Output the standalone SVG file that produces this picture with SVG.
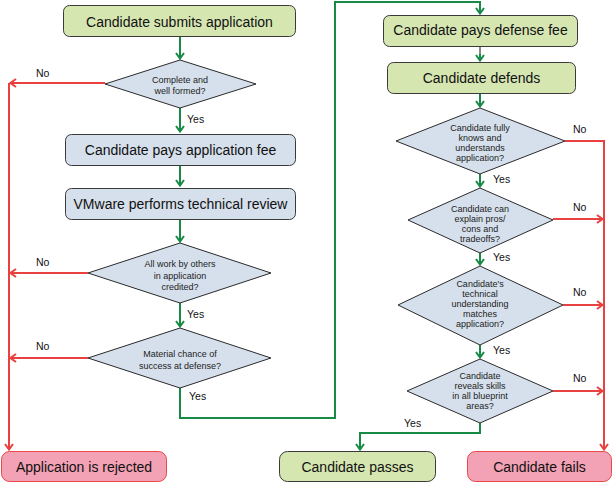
<svg xmlns="http://www.w3.org/2000/svg" width="613" height="483" viewBox="0 0 613 483">
<defs>
<style>
.box{stroke:#3a3a3a;stroke-width:1}
.g{fill:#d6e6b1}
.b{fill:#d6e0ec}
.p{fill:#f3a1b5;stroke:#e84848;stroke-width:1}
.dia{fill:#d6e0ec;stroke:#2a2a2a;stroke-width:1}
.bt{font-family:"Liberation Sans",Arial,sans-serif;font-size:14px;fill:#111;text-anchor:middle}
.dt{font-family:"Liberation Sans",Arial,sans-serif;font-size:9px;fill:#222;text-anchor:middle}
.lb{font-family:"Liberation Sans",Arial,sans-serif;font-size:10.5px;fill:#111}
.gl{fill:none;stroke:#178a45;stroke-width:2}
.rl{fill:none;stroke:#e8413f;stroke-width:2}
</style>
<marker id="ag" viewBox="0 0 10 10" refX="8.5" refY="5" markerWidth="10" markerHeight="10" markerUnits="userSpaceOnUse" orient="auto">
<path d="M2.5,1 L8,5 L2.5,9" fill="none" stroke="#178a45" stroke-width="2"/>
</marker>
<marker id="ar" viewBox="0 0 10 10" refX="8.5" refY="5" markerWidth="10" markerHeight="10" markerUnits="userSpaceOnUse" orient="auto">
<path d="M2.5,1 L8,5 L2.5,9" fill="none" stroke="#e8413f" stroke-width="2"/>
</marker>
</defs>
<rect width="613" height="483" fill="#ffffff"/>

<g id="connectors">
<path class="gl" d="M180,36 V59" marker-end="url(#ag)"/>
<path class="gl" d="M180,108 V132" marker-end="url(#ag)"/>
<path class="gl" d="M180,165 V186" marker-end="url(#ag)"/>
<path class="gl" d="M180,219 V242" marker-end="url(#ag)"/>
<path class="gl" d="M180,303 V327" marker-end="url(#ag)"/>
<path class="gl" d="M180,388 V418 H335 V2 H480 V14" marker-end="url(#ag)"/>
<path d="M480,47 V58" fill="none" stroke="#8a8a8a" stroke-width="2"/>
<path class="gl" d="M480,54 V61" marker-end="url(#ag)"/>
<path class="gl" d="M480,93 V107" marker-end="url(#ag)"/>
<path class="gl" d="M480,174 V187" marker-end="url(#ag)"/>
<path class="gl" d="M480,253 V265" marker-end="url(#ag)"/>
<path class="gl" d="M480,345 V358" marker-end="url(#ag)"/>
<path class="gl" d="M480,423 V433 H360 V450" marker-end="url(#ag)"/>

<path class="rl" d="M105,83 H10" marker-end="url(#ar)"/>
<path class="rl" d="M88,273 H10" marker-end="url(#ar)"/>
<path class="rl" d="M88,358 H10" marker-end="url(#ar)"/>
<path class="rl" d="M9,83 V450" marker-end="url(#ar)"/>
<path class="rl" d="M565,141 H604 V450" marker-end="url(#ar)"/>
<path class="rl" d="M553,219 H603" marker-end="url(#ar)"/>
<path class="rl" d="M563,305 H603" marker-end="url(#ar)"/>
<path class="rl" d="M553,391 H603" marker-end="url(#ar)"/>

<text class="lb" x="36" y="77">No</text>
<text class="lb" x="36" y="266">No</text>
<text class="lb" x="36" y="350">No</text>
<text class="lb" x="187" y="123">Yes</text>
<text class="lb" x="187" y="318">Yes</text>
<text class="lb" x="189" y="400">Yes</text>
<text class="lb" x="573" y="133">No</text>
<text class="lb" x="573" y="211">No</text>
<text class="lb" x="573" y="296">No</text>
<text class="lb" x="573" y="382">No</text>
<text class="lb" x="493" y="183">Yes</text>
<text class="lb" x="493" y="261">Yes</text>
<text class="lb" x="493" y="354">Yes</text>
<text class="lb" x="404" y="427">Yes</text>
</g>

<g id="submit">
<rect class="box g" x="63.5" y="5.5" width="232" height="31" rx="6"/>
<text class="bt" x="179.5" y="26.5">Candidate submits application</text>
</g>
<g id="complete">
<polygon class="dia" points="180,60 256,84 180,108 105,84"/>
<text class="dt" x="180" y="82.5">Complete and</text>
<text class="dt" x="180" y="93.5">well formed?</text>
</g>
<g id="appfee">
<rect class="box b" x="65.5" y="134.5" width="230" height="31" rx="6"/>
<text class="bt" x="180.5" y="155">Candidate pays application fee</text>
</g>
<g id="review">
<rect class="box b" x="65.5" y="188.5" width="230" height="31" rx="6"/>
<text class="bt" x="180.5" y="208.5">VMware performs technical review</text>
</g>
<g id="credited">
<polygon class="dia" points="180,243 271,273 180,303 88,273"/>
<text class="dt" x="180" y="267">All work by others</text>
<text class="dt" x="180" y="278.5">in application</text>
<text class="dt" x="180" y="290">credited?</text>
</g>
<g id="chance">
<polygon class="dia" points="180,328 271,358 180,388 88,358"/>
<text class="dt" x="180" y="357">Material chance of</text>
<text class="dt" x="180" y="368.5">success at defense?</text>
</g>
<g id="rejected">
<rect class="p" x="1.5" y="451.5" width="165" height="30" rx="8"/>
<text class="bt" x="84" y="472">Application is rejected</text>
</g>
<g id="defensefee">
<rect class="box g" x="383.5" y="15.5" width="194" height="31" rx="6"/>
<text class="bt" x="480.5" y="34.5">Candidate pays defense fee</text>
</g>
<g id="defends">
<rect class="box g" x="387.5" y="62.5" width="188" height="31" rx="6"/>
<text class="bt" x="481.5" y="83">Candidate defends</text>
</g>
<g id="knows">
<polygon class="dia" points="480,108 565,141 480,174 396,141"/>
<text class="dt" x="480" y="130.7">Candidate fully</text>
<text class="dt" x="480" y="140.7">knows and</text>
<text class="dt" x="480" y="150.7">understands</text>
<text class="dt" x="480" y="160.7">application?</text>
</g>
<g id="explain">
<polygon class="dia" points="480,188 553,220 480,253 408,220"/>
<text class="dt" x="480" y="212">Candidate can</text>
<text class="dt" x="480" y="222">explain pros/</text>
<text class="dt" x="480" y="232">cons and</text>
<text class="dt" x="480" y="242">tradeoffs?</text>
</g>
<g id="technical">
<polygon class="dia" points="480,266 563,305 480,345 398,305"/>
<text class="dt" x="480" y="287.3">Candidate's</text>
<text class="dt" x="480" y="297.3">technical</text>
<text class="dt" x="480" y="307.3">understanding</text>
<text class="dt" x="480" y="317.3">matches</text>
<text class="dt" x="480" y="327.3">application?</text>
</g>
<g id="skills">
<polygon class="dia" points="480,359 553,391 480,423 407,391"/>
<text class="dt" x="480" y="379">Candidate</text>
<text class="dt" x="480" y="389">reveals skills</text>
<text class="dt" x="480" y="399">in all blueprint</text>
<text class="dt" x="480" y="409">areas?</text>
</g>
<g id="passes">
<rect class="box g" x="279.5" y="451.5" width="156" height="30" rx="8"/>
<text class="bt" x="357.5" y="472">Candidate passes</text>
</g>
<g id="fails">
<rect class="p" x="467.5" y="451.5" width="144" height="30" rx="8"/>
<text class="bt" x="539.5" y="472">Candidate fails</text>
</g>
</svg>
